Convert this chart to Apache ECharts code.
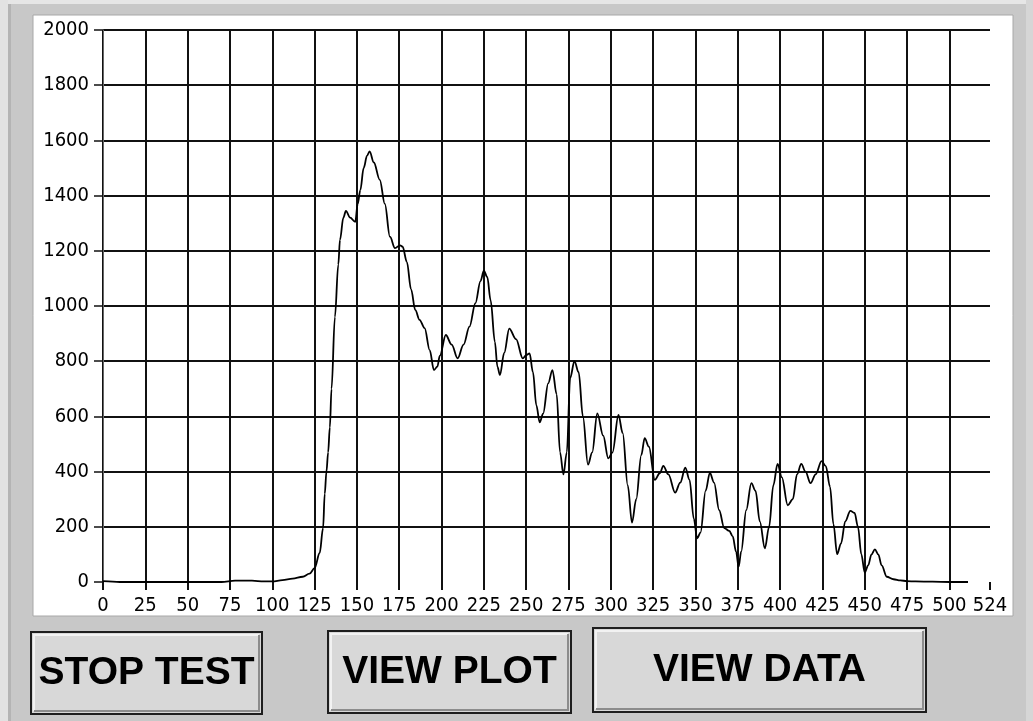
<!DOCTYPE html>
<html>
<head>
<meta charset="utf-8">
<script src="https://cdn.jsdelivr.net/npm/echarts@6/dist/echarts.min.js"></script>
<style>
  html, body { margin: 0; padding: 0; background: #c8c8c8; }
  #chart { width: 1033px; height: 721px; }
</style>
</head>
<body>
<div id="chart"></div>
<script>
// sample index (x) and reading (y)
const sampleX = [
  0, 10, 25, 50, 70, 78, 88, 95, 100, 106, 112, 118, 122, 125, 128, 130, 131, 132, 133, 134,
  135, 137, 139, 140, 142, 143.5, 146, 149, 150.5, 152, 154, 156, 157.5, 160, 163.5, 166.5, 169.5, 172.5,
  175.5, 177, 179.5, 182, 184.5, 187, 190, 193, 195.5, 197.5, 199, 202.5, 206, 209.5, 213, 216.5,
  220, 223, 225, 227, 229, 231.5, 233, 234.5, 237, 240, 244, 248, 250, 252, 254, 256, 258, 260,
  263, 265.5, 268, 270, 272, 274, 276, 278.5, 281, 283.5, 286.5, 289, 292, 295.5, 298.5, 301,
  304.5, 307, 310, 312.5, 315, 318, 320, 322.5, 326, 329, 331, 334, 338, 341, 344, 346.5, 349,
  351, 353, 356, 358.5, 361, 364, 367, 370, 372, 374, 375.5, 377, 380, 383, 385.5, 388, 391,
  393.5, 396, 398.5, 401, 404.5, 407.5, 410, 412.5, 415, 418, 421, 424.5, 427, 429.5, 431.5,
  433.7, 436, 438.5, 441.5, 444, 446, 448, 450, 452, 454, 456, 458, 460, 463, 467, 471, 475,
  480, 490, 500, 511
];
const sampleY = [
  3, 0, 0, 0, 0, 5, 5, 2, 2, 7, 12, 19, 30, 50, 105, 195, 320, 400, 470, 560,
  700, 960, 1150, 1240, 1320, 1345, 1320, 1305, 1370, 1420, 1500, 1545, 1560, 1520, 1457, 1370, 1251, 1210,
  1220, 1215, 1160, 1060, 985, 950, 920, 840, 768, 780, 820, 895, 860, 810, 860, 925,
  1010, 1090, 1128, 1105, 1020, 870, 780, 750, 830, 918, 880, 810, 822, 828, 760, 640, 578, 610,
  720, 768, 680, 470, 390, 470, 740, 800, 760, 600, 425, 470, 611, 530, 448, 470,
  605, 540, 350, 215, 300, 460, 521, 490, 370, 395, 421, 390, 324, 360, 414, 370, 230,
  158, 180, 330, 395, 360, 260, 195, 185, 165, 110, 55, 110, 260, 358, 330, 220, 122,
  200, 350, 428, 380, 278, 300, 390, 428, 400, 358, 390, 438, 420, 345, 210,
  101, 140, 220, 258, 250, 200, 100, 34, 60, 100, 118, 100, 60, 19, 10, 6, 3,
  2, 1, 0, 0
];

const xMin = 0, xMax = 524, xStep = 25;
const yMin = 0, yMax = 2000, yStep = 200;
const buttonLabels = ['STOP TEST', 'VIEW PLOT', 'VIEW DATA'];

const tickFont = '"Liberation Sans Narrow", "DejaVu Sans Condensed", "Liberation Sans", Arial, sans-serif';
const ink = '#111';

function button(x, y, w, h, label, textY) {
  return {
    type: 'group',
    children: [
      { type: 'rect', shape: { x: x, y: y, width: w, height: h },
        style: { fill: '#d8d8d8', stroke: '#1e1e1e', lineWidth: 2 } },
      { type: 'polyline', shape: { points: [[x + 3, y + h - 3], [x + 3, y + 3], [x + w - 3, y + 3]] },
        style: { stroke: '#f2f2f2', lineWidth: 2, fill: null } },
      { type: 'polyline', shape: { points: [[x + 3, y + h - 3], [x + w - 3, y + h - 3], [x + w - 3, y + 3]] },
        style: { stroke: '#8c8c8c', lineWidth: 2, fill: null } },
      { type: 'text', x: x + w / 2, y: textY,
        style: { text: label, fill: '#000', align: 'center', verticalAlign: 'middle',
                 font: 'bold 39px "Liberation Sans", Arial, sans-serif' } }
    ]
  };
}

const chart = echarts.init(document.getElementById('chart'), null, { renderer: 'canvas' });

chart.setOption({
  animation: false,
  backgroundColor: '#c8c8c8',
  grid: { left: 103, right: 43, top: 30, bottom: 139, containLabel: false, outerBoundsMode: 'none' },
  graphic: [
    // panel frame
    { type: 'rect', z: -20, shape: { x: 0, y: 0, width: 1033, height: 4 }, style: { fill: '#e6e6e6' } },
    { type: 'rect', z: -20, shape: { x: 0, y: 0, width: 8, height: 721 }, style: { fill: '#e2e2e2' } },
    { type: 'rect', z: -20, shape: { x: 8, y: 4, width: 3, height: 717 }, style: { fill: '#b4b4b4' } },
    { type: 'rect', z: -20, shape: { x: 1026, y: 0, width: 7, height: 721 }, style: { fill: '#d6d6d6' } },
    // white plot panel
    { type: 'rect', z: -10, shape: { x: 33, y: 15, width: 980, height: 601 },
      style: { fill: '#fff', stroke: '#a8a8a8', lineWidth: 1 } },
    button(31, 632, 231, 82, buttonLabels[0], 673),
    button(328, 631, 243, 82, buttonLabels[1], 672),
    button(593, 628, 333, 84, buttonLabels[2], 670)
  ],
  xAxis: {
    type: 'value',
    min: xMin,
    max: xMax,
    interval: xStep,
    offset: 5,
    axisLine: { show: false },
    axisTick: { show: true, length: 8, lineStyle: { color: ink, width: 2 } },
    axisLabel: { color: '#000', fontSize: 20, fontFamily: tickFont, margin: 9,
                 showMinLabel: true, showMaxLabel: true, hideOverlap: false },
    splitLine: { show: true, showMaxLine: false, lineStyle: { color: ink, width: 2 } }
  },
  yAxis: {
    type: 'value',
    min: yMin,
    max: yMax,
    interval: yStep,
    axisLine: { show: true, lineStyle: { color: '#666', width: 1 } },
    axisTick: { show: true, length: 9, lineStyle: { color: ink, width: 1.5 } },
    axisLabel: { color: '#000', fontSize: 20, fontFamily: tickFont, margin: 14,
                 formatter: v => String(v) },
    splitLine: { show: true, showMinLine: false, lineStyle: { color: ink, width: 2 } }
  },
  series: [{
    type: 'line',
    data: sampleX.map((x, i) => [x, sampleY[i]]),
    showSymbol: false,
    smooth: 0.35,
    smoothMonotone: 'x',
    lineStyle: { color: '#000', width: 1.8 },
    z: 5
  }]
});
</script>
</body>
</html>
